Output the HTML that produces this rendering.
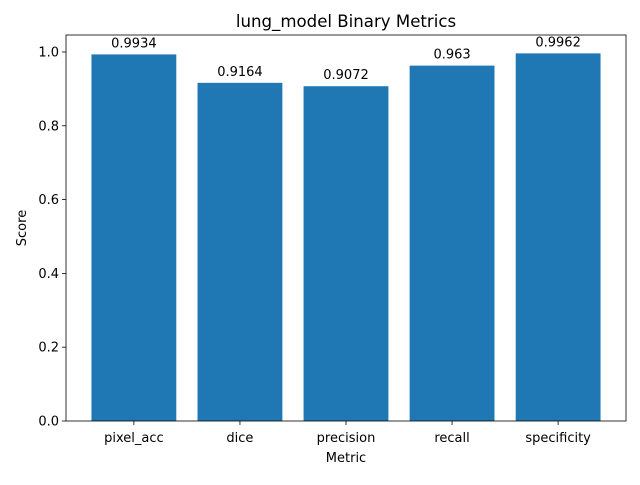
<!DOCTYPE html>
<html><head><meta charset="utf-8"><style>
body{margin:0;background:#fff;font-family:"Liberation Sans","DejaVu Sans",sans-serif;}
svg text{font-family:"DejaVu Sans","Liberation Sans",sans-serif;}
</style></head><body>
<svg id="chart" width="640" height="480" xmlns="http://www.w3.org/2000/svg"></svg>
<script>
const categories = ["pixel_acc","dice","precision","recall","specificity"];
const values = [0.9934,0.9164,0.9072,0.963,0.9962];
const valueLabels = ["0.9934","0.9164","0.9072","0.963","0.9962"];
const yTicks = [0,0.2,0.4,0.6,0.8,1.0];
const yTickLabels = ["0.0","0.2","0.4","0.6","0.8","1.0"];

const svg = document.getElementById('chart');
const NS = "http://www.w3.org/2000/svg";
const L=66,R=626,T=35,B=421;
const ymax = Math.max(...values)*1.05;
const xmin=-0.64, xmax=categories.length-1+0.64;
function xs(v){return L+(v-xmin)/(xmax-xmin)*(R-L);}
function ys(v){return B-v/ymax*(B-T);}
function mk(tag, attrs, text){
  const e=document.createElementNS(NS,tag);
  for(const k in attrs) e.setAttribute(k,attrs[k]);
  if(text!==undefined) e.textContent=text;
  svg.appendChild(e); return e;
}
let e;
e=mk('text',{x:(L+R)/2,y:27,'text-anchor':'middle','font-size':16.6,fill:'#000'},'lung_model Binary Metrics');


categories.forEach((c,i)=>{
  const w=(xs(0.4)-xs(-0.4));
  const r=mk('rect',{x:xs(i-0.4),y:ys(values[i]),width:w,height:B-ys(values[i]),fill:'#1f77b4'});
  
  
  const t=mk('text',{x:xs(i),y:ys(values[i])-7,'text-anchor':'middle','font-size':13,fill:'#000'},valueLabels[i]);
  
  
  mk('line',{x1:xs(i),x2:xs(i),y1:B,y2:B+4,stroke:'#000','stroke-width':0.8});
  const xl=mk('text',{x:xs(i),y:B+21,'text-anchor':'middle','font-size':13,fill:'#000'},c);
  
  
});
yTicks.forEach((v,i)=>{
  mk('line',{x1:L-4,x2:L,y1:ys(v),y2:ys(v),stroke:'#000','stroke-width':0.8});
  const t=mk('text',{x:L-7,y:ys(v)+4.5,'text-anchor':'end','font-size':13,fill:'#000'},yTickLabels[i]);
  
  
});
e=mk('rect',{x:L,y:T,width:R-L,height:B-T,fill:'none',stroke:'#000','stroke-width':0.8});


e=mk('text',{x:(L+R)/2,y:462,'text-anchor':'middle','font-size':13,fill:'#000'},'Metric');


e=mk('text',{x:26,y:(T+B)/2,'text-anchor':'middle','font-size':13,fill:'#000',transform:'rotate(-90 26 '+((T+B)/2)+')'},'Score');


</script>
</body></html>
